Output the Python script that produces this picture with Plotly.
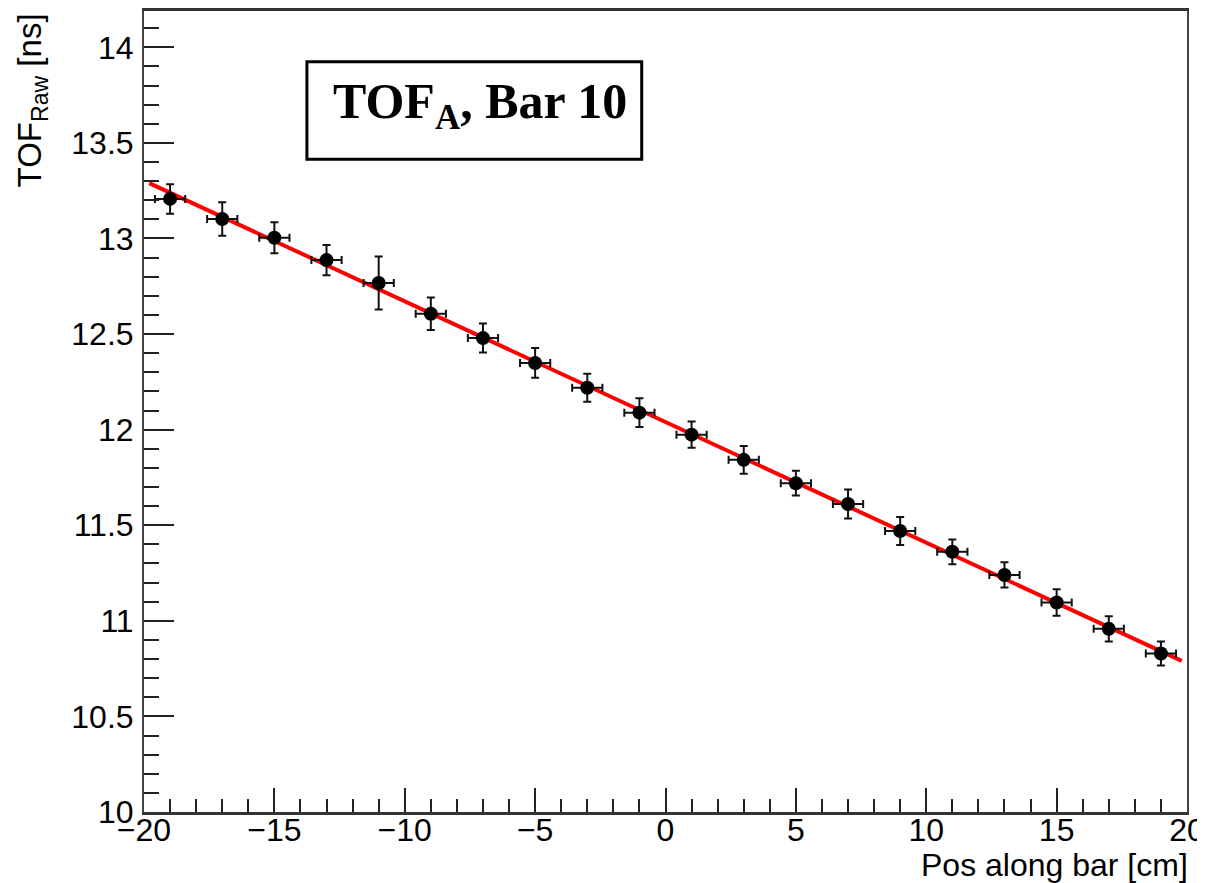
import plotly.graph_objects as go

# Data
pos_cm = [-19, -17, -15, -13, -11, -9, -7, -5, -3, -1, 1, 3, 5, 7, 9, 11, 13, 15, 17, 19]
tof_raw = [13.207, 13.102, 13.004, 12.887, 12.767, 12.606, 12.479, 12.349, 12.219, 12.089,
           11.974, 11.842, 11.720, 11.611, 11.470, 11.361, 11.240, 11.096, 10.958, 10.829]
tof_err = [0.077, 0.088, 0.081, 0.079, 0.139, 0.085, 0.076, 0.078, 0.073, 0.075,
           0.069, 0.072, 0.065, 0.076, 0.073, 0.065, 0.066, 0.069, 0.066, 0.063]
pos_err = [0.58] * len(pos_cm)

# Linear fit parameters
fit_slope = -0.06312
fit_intercept = 12.040
fit_range = [-19.8, 19.8]

x_range = [-20, 20]
y_range = [10, 14.19]

fig = go.Figure()

fit_y = [fit_intercept + fit_slope * x for x in fit_range]
fig.add_trace(go.Scatter(
    x=fit_range, y=fit_y, mode="lines",
    line=dict(color="#ff0000", width=4), hoverinfo="skip", showlegend=False))

fig.add_trace(go.Scatter(
    x=pos_cm, y=tof_raw, mode="markers",
    marker=dict(color="black", size=14),
    error_y=dict(type="data", array=tof_err, color="#111111", thickness=2, width=4),
    error_x=dict(type="data", array=pos_err, color="#111111", thickness=2, width=4),
    showlegend=False))

tick_font = dict(family="Liberation Sans, Arial, sans-serif", size=32, color="black")

# page body has an 8px margin; figure sized/margined to compensate
fig.update_layout(
    width=1197, height=875,
    margin=dict(l=136, r=17.5, t=0, b=71),
    paper_bgcolor="white", plot_bgcolor="white",
    showlegend=False,
    xaxis=dict(
        range=x_range, dtick=5, tick0=0,
        ticks="inside", ticklen=24, tickwidth=1.5, tickcolor="#222",
        minor=dict(dtick=1, ticks="inside", ticklen=13, tickwidth=1.5, tickcolor="#222"),
        showgrid=False, zeroline=False,
        showline=True, linecolor="#333", linewidth=2.5, mirror=True,
        tickfont=tick_font, ticklabelstandoff=-12,
    ),
    yaxis=dict(
        range=y_range, dtick=0.5, tick0=10,
        ticks="inside", ticklen=30, tickwidth=1.5, tickcolor="#222",
        minor=dict(dtick=0.1, ticks="inside", ticklen=15, tickwidth=1.5, tickcolor="#222"),
        showgrid=False, zeroline=False,
        showline=True, linecolor="#444", linewidth=2, mirror=True,
        tickfont=tick_font, ticklabelstandoff=2,
    ),
    shapes=[dict(
        type="rect", xref="paper", yref="paper",
        x0=0.1562, x1=0.4772, y0=0.8149, y1=0.9366,
        line=dict(color="black", width=3), fillcolor="white", layer="above")],
    annotations=[
        dict(text="<b>TOF<sub>A</sub>, Bar 10</b>", xref="paper", yref="paper",
             x=0.3225, y=0.878, yshift=4, xanchor="center", yanchor="middle", showarrow=False,
             font=dict(family="Liberation Serif, Times New Roman, serif", size=50, color="black")),
        dict(text="Pos along bar [cm]", xref="paper", yref="paper",
             x=1.0, y=-0.0883, xshift=3, yshift=-2, xanchor="right", yanchor="bottom", showarrow=False,
             font=dict(family="Liberation Sans, Arial, sans-serif", size=32, color="black")),
        dict(text="TOF<sub>Raw</sub> [ns]", xref="paper", yref="paper",
             x=-0.107, y=1.0, xanchor="center", yanchor="top", textangle=-90, showarrow=False,
             font=dict(family="Liberation Sans, Arial, sans-serif", size=33, color="black")),
    ],
)

fig.write_html("out.html")
